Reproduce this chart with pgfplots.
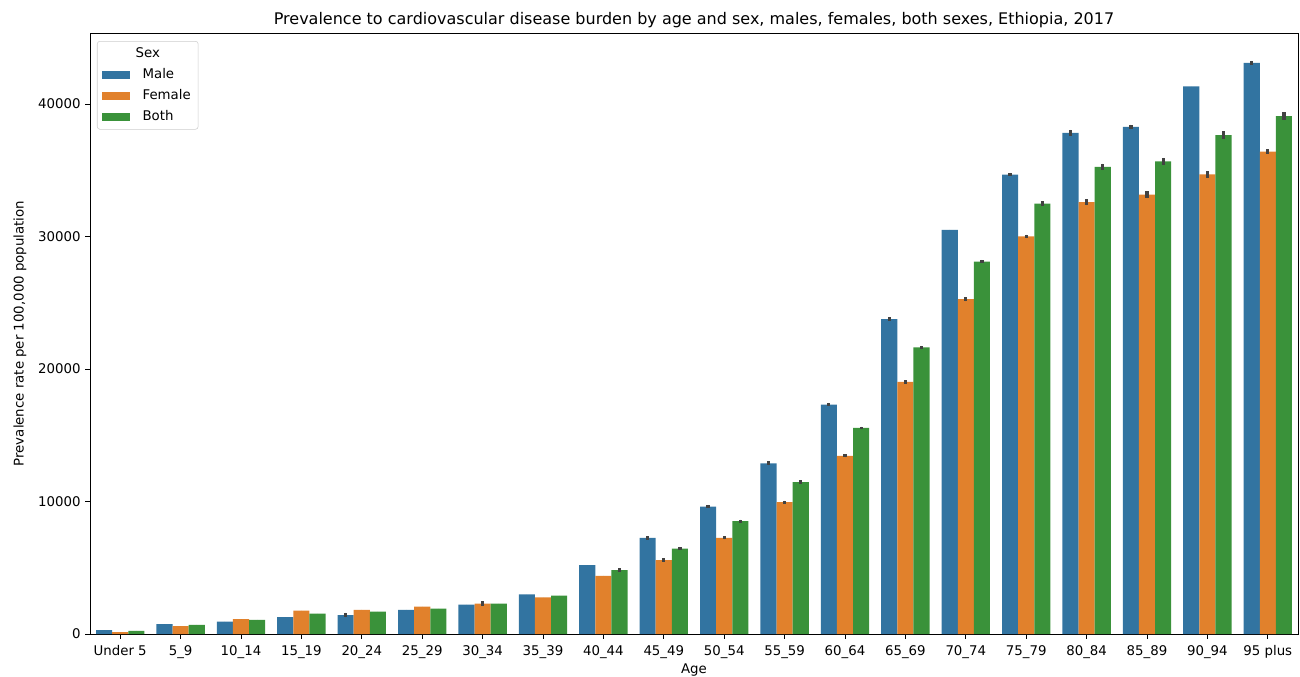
\documentclass[border=0pt]{standalone}
\usepackage{fontspec}
\setmainfont{DejaVu Sans}
\usepackage{pgfplots}
\usepackage{pgfplotstable}
\pgfplotsset{compat=1.18}
\definecolor{cmale}{HTML}{3274A1}
\definecolor{cfemale}{HTML}{E1812C}
\definecolor{cboth}{HTML}{3A923A}
\definecolor{cerr}{HTML}{424242}

\pgfplotstableread{
x y e
0 300 0
1 750 0
2 930 0
3 1280 0
4 1430 180
5 1830 0
6 2210 0
7 3000 0
8 5200 0
9 7250 130
10 9620 120
11 12880 150
12 17320 120
13 23760 130
14 30500 0
15 34680 130
16 37820 230
17 38270 180
18 41340 0
19 43110 150
}\male

\pgfplotstableread{
x y e
0 150 0
1 600 0
2 1130 0
3 1760 0
4 1830 0
5 2060 0
6 2290 180
7 2770 0
8 4380 0
9 5580 120
10 7260 120
11 9950 120
12 13450 120
13 19030 130
14 25270 170
15 30010 130
16 32590 220
17 33160 270
18 34690 250
19 36410 170
}\female

\pgfplotstableread{
x y e
0 230 0
1 680 0
2 1060 0
3 1530 0
4 1680 0
5 1910 0
6 2290 0
7 2890 0
8 4830 120
9 6450 120
10 8510 120
11 11470 120
12 15550 100
13 21630 120
14 28110 120
15 32480 170
16 35260 250
17 35670 270
18 37660 270
19 39090 270
}\both

\begin{document}
\begin{tikzpicture}
\begin{axis}[
  at={(0,0)}, anchor=south west,
  scale only axis, width=906pt, height=450.75pt,
  xmin=-0.5, xmax=19.5, ymin=0, ymax=45360,
  ybar, bar width=0.2667,
  xtick={0,...,19},
  xticklabels={Under 5,5\_9,10\_14,15\_19,20\_24,25\_29,30\_34,35\_39,40\_44,45\_49,50\_54,55\_59,60\_64,65\_69,70\_74,75\_79,80\_84,85\_89,90\_94,95 plus},
  ytick={0,10000,20000,30000,40000},
  tick align=outside, xtick pos=bottom, ytick pos=left,
  major tick length=3.5pt,
  tick style={black, line width=0.6pt},
  axis line style={line width=0.6pt},
  /pgf/number format/assume math mode=true,
  /pgf/number format/1000 sep={},
  scaled y ticks=false,
  ticklabel style={font=\fontsize{10}{12}\selectfont},
  xticklabel style={text height=7.3pt, text depth=2pt, yshift=-2pt},
  title={Prevalence to cardiovascular disease burden by age and sex, males, females, both sexes, Ethiopia, 2017},
  title style={font=\fontsize{12}{14}\selectfont, at={(axis description cs:0.5,1)}, anchor=base, yshift=0pt},
  xlabel={Age},
  xlabel style={font=\fontsize{10}{12}\selectfont, at={(axis description cs:0.5,-0.06)}, anchor=center},
  ylabel={Prevalence rate per 100,000 population},
  ylabel style={font=\fontsize{10}{12}\selectfont, at={(axis description cs:-0.0579,0.5)}, anchor=center},
  legend cell align=left,
  legend image code/.code={\path[#1, draw=none, sharp corners] (0pt,-3pt) rectangle (21pt,3pt);},
  legend style={at={(axis description cs:0,1)}, anchor=north west, xshift=5.25pt, yshift=-6pt,
    draw=black!20, rounded corners=2pt, fill=white, font=\fontsize{10}{12}\selectfont,
    row sep=2.6pt, column sep=7.5pt, inner xsep=3.5pt, inner ysep=3pt},
  error bars/y dir=both, error bars/y explicit, error bars/error mark=none,
  error bars/error bar style={cerr, line width=2.4pt},
]
\addlegendimage{empty legend}
\addlegendentry{\hspace*{-5.25pt}Sex}
\addplot[fill=cmale, draw=none, bar shift=-0.2667] table[x=x, y=y, y error=e] {\male};
\addlegendentry{Male}
\addplot[fill=cfemale, draw=none, bar shift=0] table[x=x, y=y, y error=e] {\female};
\addlegendentry{Female}
\addplot[fill=cboth, draw=none, bar shift=0.2667] table[x=x, y=y, y error=e] {\both};
\addlegendentry{Both}
\end{axis}
\pgfresetboundingbox
\path[use as bounding box] (-67.5pt,-31.5pt) rectangle (907.5pt,475.5pt);
\end{tikzpicture}
\end{document}
